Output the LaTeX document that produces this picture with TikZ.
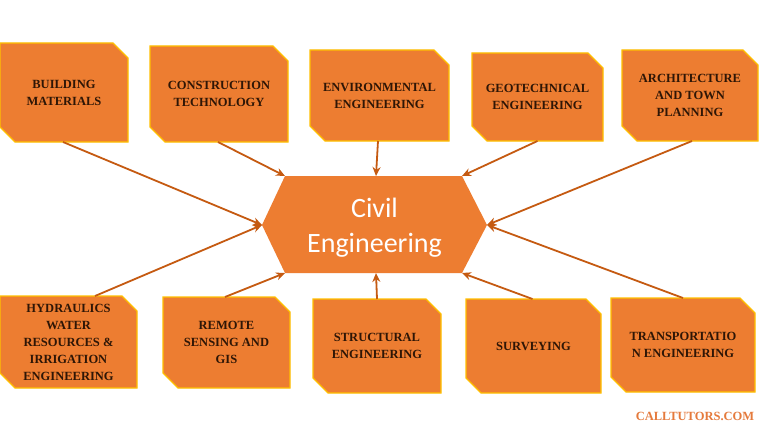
\documentclass[tikz,border=0pt]{standalone}
\usepackage{fontspec}
\setmainfont{Liberation Serif}
\newfontfamily\hexfont{Carlito}
\usetikzlibrary{arrows.meta,calc}
\definecolor{boxfill}{HTML}{ED7D31}
\definecolor{boxline}{HTML}{FFC000}
\definecolor{arrowc}{HTML}{C55A11}
\definecolor{txtc}{HTML}{2E1606}
\definecolor{wm}{HTML}{E57A3C}
\tikzset{
  topicshape/.style={fill=boxfill, draw=boxline, line width=1.2pt, line join=miter},
  topic/.style={rectangle, inner sep=0pt, outer sep=0pt,
    align=center, text=txtc, font=\bfseries\fontsize{12.5}{17}\selectfont},
  hubshape/.style={fill=boxfill},
  hub/.style={inner sep=0pt, outer sep=0pt, align=center, text=white,
    font=\hexfont\fontsize{28}{35}\selectfont},
  link/.style={draw=arrowc, line width=1.8pt, -{Stealth[length=9pt,width=8pt]}}
}
% name, cx, cy, w, h, text
\newcommand\topicbox[6]{%
  \path[topicshape] (#2-#4/2,#3-#5/2) -- (#2+#4/2-15,#3-#5/2) -- (#2+#4/2,#3-#5/2+15)
    -- (#2+#4/2,#3+#5/2) -- (#2-#4/2+15,#3+#5/2) -- (#2-#4/2,#3+#5/2-15) -- cycle;
  \node[topic, minimum width=#4pt, minimum height=#5pt] (#1) at (#2,#3) {#6};}
\begin{document}
\begin{tikzpicture}[x=1pt,y=-1pt]
\useasboundingbox[fill=white] (0,0) rectangle (760,428);
% hub
\path[hubshape] (262,225) -- (285,176) -- (462,176) -- (487,225) -- (462,273) -- (285,273) -- cycle;
\node[hub] (hub) at (374.5,228) {Civil\\Engineering};
\coordinate (hW) at (262,225);
\coordinate (hE) at (487,225);
\coordinate (hNW) at (285,176);
\coordinate (hNE) at (462,176);
\coordinate (hSW) at (285,273);
\coordinate (hSE) at (462,273);
\coordinate (hN) at (376,176);
\coordinate (hS) at (376,273);
% top row
\topicbox{b1}{64}{92.5}{128}{99}{BUILDING\\MATERIALS}
\topicbox{b2}{219}{94}{138}{96}{CONSTRUCTION\\TECHNOLOGY}
\topicbox{b3}{379.5}{95.5}{139}{91}{ENVIRONMENTAL\\ENGINEERING}
\topicbox{b4}{537.5}{97}{131}{88}{GEOTECHNICAL\\ENGINEERING}
\topicbox{b5}{690}{95.5}{136}{91}{ARCHITECTURE\\AND TOWN\\PLANNING}
% bottom row
\topicbox{b6}{68.5}{342}{137}{92}{HYDRAULICS\\WATER\\RESOURCES \&\\IRRIGATION\\ENGINEERING}
\topicbox{b7}{226.5}{342.5}{127}{91}{REMOTE\\SENSING AND\\GIS}
\topicbox{b8}{377}{346}{128}{94}{STRUCTURAL\\ENGINEERING}
\topicbox{b9}{533.5}{346}{135}{94}{SURVEYING}
\topicbox{b10}{683}{345}{144}{94}{TRANSPORTATIO\\N ENGINEERING}
% links
\draw[link] ([xshift=-1pt]b1.south) -- (hW);
\draw[link] ([xshift=-1pt]b2.south) -- (hNW);
\draw[link] ([xshift=-1.5pt]b3.south) -- (hN);
\draw[link] (b4.south) -- (hNE);
\draw[link] ([xshift=2pt]b5.south) -- (hE);
\draw[link] ([xshift=26.5pt]b6.north) -- (hW);
\draw[link] ([xshift=-1.5pt]b7.north) -- (hSW);
\draw[link] (b8.north) -- (hS);
\draw[link] ([xshift=-1pt]b9.north) -- (hSE);
\draw[link] (b10.north) -- (hE);
% watermark
\node[text=wm, font=\bfseries\fontsize{12.5}{14}\selectfont, inner sep=0pt] (wmk) at (695,416) {CALLTUTORS.COM};
\end{tikzpicture}
\end{document}
